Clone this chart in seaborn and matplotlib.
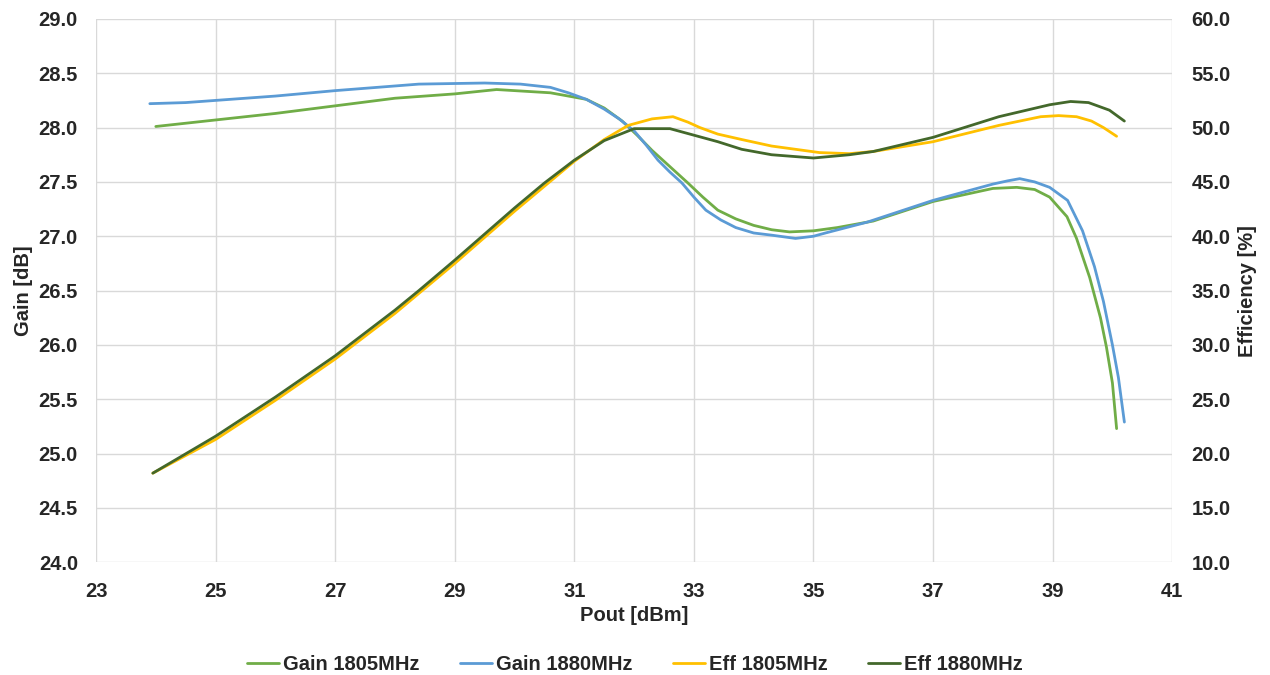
import matplotlib
matplotlib.use("Agg")
import matplotlib.pyplot as plt
import seaborn as sns
import numpy as np

# Gain curves (left axis, dB)
pout_gain_1805 = [24.0, 25.0, 26.0, 27.0, 28.0, 29.0, 29.7, 30.6, 31.2, 31.5, 31.8, 32.05, 32.3, 32.6,
                  32.9, 33.15, 33.4, 33.7, 34.0, 34.3, 34.6, 35.0, 35.4, 36.0, 37.0, 37.5, 38.0, 38.4,
                  38.7, 38.95, 39.24, 39.4, 39.62, 39.8, 39.9, 40.0, 40.07]
gain_1805 = [28.01, 28.07, 28.13, 28.20, 28.27, 28.31, 28.35, 28.32, 28.26, 28.18, 28.06, 27.93, 27.79,
             27.64, 27.49, 27.36, 27.24, 27.16, 27.10, 27.06, 27.04, 27.05, 27.08, 27.14, 27.32, 27.38,
             27.44, 27.45, 27.43, 27.36, 27.18, 26.98, 26.62, 26.25, 25.98, 25.65, 25.23]

pout_gain_1880 = [23.9, 24.5, 25.0, 26.0, 27.0, 28.4, 29.5, 30.1, 30.6, 30.9, 31.2, 31.5, 31.75, 32.0,
                  32.2, 32.4, 32.6, 32.8, 33.0, 33.2, 33.45, 33.7, 34.0, 34.3, 34.7, 35.0, 35.2, 35.9,
                  37.0, 38.0, 38.25, 38.45, 38.7, 38.95, 39.25, 39.5, 39.7, 39.85, 40.0, 40.1, 40.2]
gain_1880 = [28.22, 28.23, 28.25, 28.29, 28.34, 28.40, 28.41, 28.40, 28.37, 28.32, 28.26, 28.17, 28.08,
             27.97, 27.84, 27.70, 27.59, 27.49, 27.36, 27.24, 27.15, 27.08, 27.03, 27.01, 26.98, 27.00,
             27.03, 27.13, 27.33, 27.48, 27.51, 27.53, 27.50, 27.45, 27.33, 27.05, 26.72, 26.40, 26.00,
             25.70, 25.29]

# Efficiency curves (right axis, %)
pout_eff_1805 = [23.95, 25.0, 26.0, 27.0, 28.0, 29.0, 30.0, 31.0, 31.5, 31.9, 32.3, 32.65, 32.9, 33.1,
                 33.4, 33.8, 34.3, 35.1, 35.6, 36.0, 37.0, 38.1, 38.8, 39.1, 39.4, 39.65, 39.85, 40.07]
eff_1805 = [18.2, 21.3, 24.9, 28.7, 32.9, 37.5, 42.3, 46.9, 48.9, 50.2, 50.8, 51.0, 50.5, 50.0,
            49.4, 48.9, 48.3, 47.7, 47.6, 47.8, 48.7, 50.2, 51.0, 51.1, 51.0, 50.6, 50.0, 49.2]

pout_eff_1880 = [23.95, 25.0, 26.0, 27.0, 28.0, 28.4, 29.0, 29.5, 30.0, 30.5, 31.0, 31.5, 32.0, 32.6,
                 33.0, 33.4, 33.8, 34.3, 35.0, 35.6, 36.0, 37.0, 38.1, 38.95, 39.3, 39.6, 39.95, 40.2]
eff_1880 = [18.2, 21.6, 25.2, 29.0, 33.2, 35.0, 37.8, 40.2, 42.6, 44.9, 47.0, 48.8, 49.9, 49.9,
            49.3, 48.7, 48.0, 47.5, 47.2, 47.5, 47.8, 49.1, 51.0, 52.1, 52.4, 52.3, 51.6, 50.6]

colors = {
    "Gain 1805MHz": "#70AD47",
    "Gain 1880MHz": "#5B9BD5",
    "Eff 1805MHz": "#FFC000",
    "Eff 1880MHz": "#43682B",
}

sns.set_theme(style="white")
plt.rcParams["font.family"] = ["Liberation Sans", "DejaVu Sans"]
plt.rcParams["font.weight"] = "bold"

fig, ax = plt.subplots(figsize=(12.7, 6.75), dpi=100)
fig.subplots_adjust(left=0.0756, right=0.923, top=0.972, bottom=0.167)
ax2 = ax.twinx()

lw = 2.0
sns.lineplot(x=pout_gain_1805, y=gain_1805, ax=ax, color=colors["Gain 1805MHz"], lw=lw,
             label="Gain 1805MHz", legend=False)
sns.lineplot(x=pout_gain_1880, y=gain_1880, ax=ax, color=colors["Gain 1880MHz"], lw=lw,
             label="Gain 1880MHz", legend=False)
sns.lineplot(x=pout_eff_1805, y=eff_1805, ax=ax2, color=colors["Eff 1805MHz"], lw=lw,
             label="Eff 1805MHz", legend=False)
sns.lineplot(x=pout_eff_1880, y=eff_1880, ax=ax2, color=colors["Eff 1880MHz"], lw=lw,
             label="Eff 1880MHz", legend=False)

ax.set_xlim(23, 41)
ax.set_ylim(24, 29)
ax2.set_ylim(10, 60)
ax.set_xticks(np.arange(23, 42, 2))
ax.set_yticks(np.arange(24, 29.01, 0.5))
ax2.set_yticks(np.arange(10, 60.01, 5))
ax.set_yticklabels([f"{v:.1f}" for v in np.arange(24, 29.01, 0.5)])
ax2.set_yticklabels([f"{v:.1f}" for v in np.arange(10, 60.01, 5)])

ax.grid(True, color="#D9D9D9", lw=1)
ax2.grid(False)
fs = 14.5
for a in (ax, ax2):
    for s in a.spines.values():
        s.set_visible(False)
    a.tick_params(length=0, labelsize=fs, colors="#262626")
ax.tick_params(axis="x", pad=14)
ax.tick_params(axis="y", pad=13)
ax2.tick_params(axis="y", pad=14)

ax.set_xlabel("Pout [dBm]", fontsize=fs, fontweight="bold", color="#262626", labelpad=4)
ax.set_ylabel("Gain [dB]", fontsize=fs, fontweight="bold", color="#262626", labelpad=4)
ax2.set_ylabel("Efficiency [%]", fontsize=fs, fontweight="bold", color="#262626", labelpad=5)

h1, l1 = ax.get_legend_handles_labels()
h2, l2 = ax2.get_legend_handles_labels()
fig.legend(h1 + h2, l1 + l2, loc="lower center", ncol=4, frameon=False,
           bbox_to_anchor=(0.5, -0.025), fontsize=fs, handlelength=1.6, handletextpad=0.2,
           columnspacing=2.0)

fig.savefig("out.png", dpi=100)
